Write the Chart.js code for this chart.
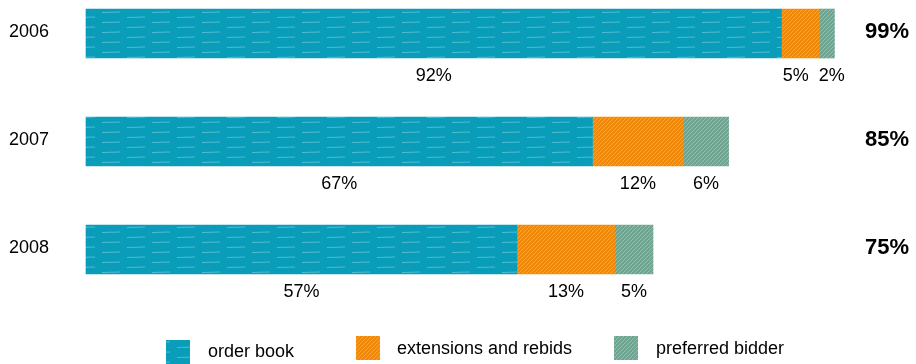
<!DOCTYPE html>
<html>
<head>
<meta charset="utf-8">
<script src="https://cdn.jsdelivr.net/npm/chart.js@4"></script>
<style>
  html, body { margin: 0; padding: 0; background: #fff; }
  #wrap { width: 916px; height: 364px; position: relative; }
</style>
</head>
<body>
<div id="wrap"><canvas id="chart"></canvas></div>
<script>
const years = ["2006", "2007", "2008"]
const orderBook = [92, 67, 57]
const extensions = [5, 12, 13]
const preferred = [2, 6, 5]
const totals = [99, 85, 75]
const seriesNames = ["order book", "extensions and rebids", "preferred bidder"]

// small hatch patterns to mimic the textured fills
function makePattern(base, light, kind) {
  const c = document.createElement("canvas")
  const g = c.getContext("2d")
  if (kind === "streak") {
    c.width = 50; c.height = 10
    g.fillStyle = base
    g.fillRect(0, 0, 50, 10)
    g.strokeStyle = light
    g.lineWidth = 1
    g.beginPath()
    g.moveTo(2, 2.5); g.lineTo(20, 2)
    g.moveTo(27, 7.5); g.lineTo(45, 7)
    g.stroke()
  } else {
    c.width = 4; c.height = 4
    g.fillStyle = base
    g.fillRect(0, 0, 4, 4)
    g.fillStyle = light
    g.fillRect(3, 0, 1, 1)
    g.fillRect(2, 1, 1, 1)
    g.fillRect(1, 2, 1, 1)
    g.fillRect(0, 3, 1, 1)
  }
  const ctx = document.getElementById("chart").getContext("2d")
  return ctx.createPattern(c, "repeat")
}

const blueFill = makePattern("#0A9DBA", "#4FBCD0", "streak")
const orangeFill = makePattern("#EE890C", "#F3A547", "hatch")
const greenFill = makePattern("#6FA590", "#95C0AE", "hatch")
const fills = [blueFill, orangeFill, greenFill]

const labelsPlugin = {
  id: "labels",
  afterDraw(chart) {
    const ctx = chart.ctx
    const yScale = chart.scales.y
    ctx.save()
    ctx.fillStyle = "#000"
    ctx.textBaseline = "middle"

    // year labels
    ctx.font = "18px 'Liberation Sans', Arial, sans-serif"
    ctx.textAlign = "left"
    years.forEach((y, i) => {
      ctx.fillText(y, 9, yScale.getPixelForValue(i) - 1)
    })

    // segment value labels under bars, pushed apart if they collide
    ctx.textAlign = "center"
    years.forEach((y, i) => {
      const items = chart.data.datasets.map((ds, di) => {
        const p = chart.getDatasetMeta(di).data[i].getProps(["x", "base", "y", "height"], true)
        const text = ds.data[i] + "%"
        return { text, x: (p.x + p.base) / 2, w: ctx.measureText(text).width, y: p.y + p.height / 2 + 18 }
      })
      for (let k = 1; k < items.length; k++) {
        const a = items[k - 1], b = items[k]
        const need = a.w / 2 + b.w / 2 + 10 - (b.x - a.x)
        if (need > 0) { a.x -= need / 2; b.x += need / 2 }
      }
      items.forEach(it => ctx.fillText(it.text, it.x, it.y))
    })

    // totals on the right
    ctx.font = "bold 22px 'Liberation Sans', Arial, sans-serif"
    ctx.textAlign = "right"
    totals.forEach((t, i) => {
      ctx.fillText(t + "%", 909, yScale.getPixelForValue(i) - 2)
    })

    // legend
    const legendPos = [[166, 340, 208, 352], [356, 336, 397, 349], [614, 336, 656, 349]]
    ctx.font = "18px 'Liberation Sans', Arial, sans-serif"
    ctx.textAlign = "left"
    seriesNames.forEach((name, i) => {
      const [bx, by, tx, ty] = legendPos[i]
      ctx.fillStyle = fills[i]
      ctx.fillRect(bx, by, 24, 24)
      ctx.fillStyle = "#000"
      ctx.fillText(name, tx, ty)
    })
    ctx.restore()
  }
}

new Chart(document.getElementById("chart"), {
  type: "bar",
  data: {
    labels: years,
    datasets: [
      { label: seriesNames[0], data: orderBook, backgroundColor: blueFill },
      { label: seriesNames[1], data: extensions, backgroundColor: orangeFill },
      { label: seriesNames[2], data: preferred, backgroundColor: greenFill }
    ]
  },
  options: {
    indexAxis: "y",
    responsive: true,
    maintainAspectRatio: false,
    animation: false,
    clip: false,
    barThickness: 49,
    borderWidth: 0,
    layout: { padding: { left: 86, right: 74, top: 33.5, bottom: 114.5 } },
    plugins: {
      legend: { display: false },
      tooltip: { enabled: false }
    },
    scales: {
      x: { stacked: true, min: 0, max: 100, display: false },
      y: { stacked: true, offset: false, display: false }
    }
  },
  plugins: [labelsPlugin]
})
</script>
</body>
</html>
